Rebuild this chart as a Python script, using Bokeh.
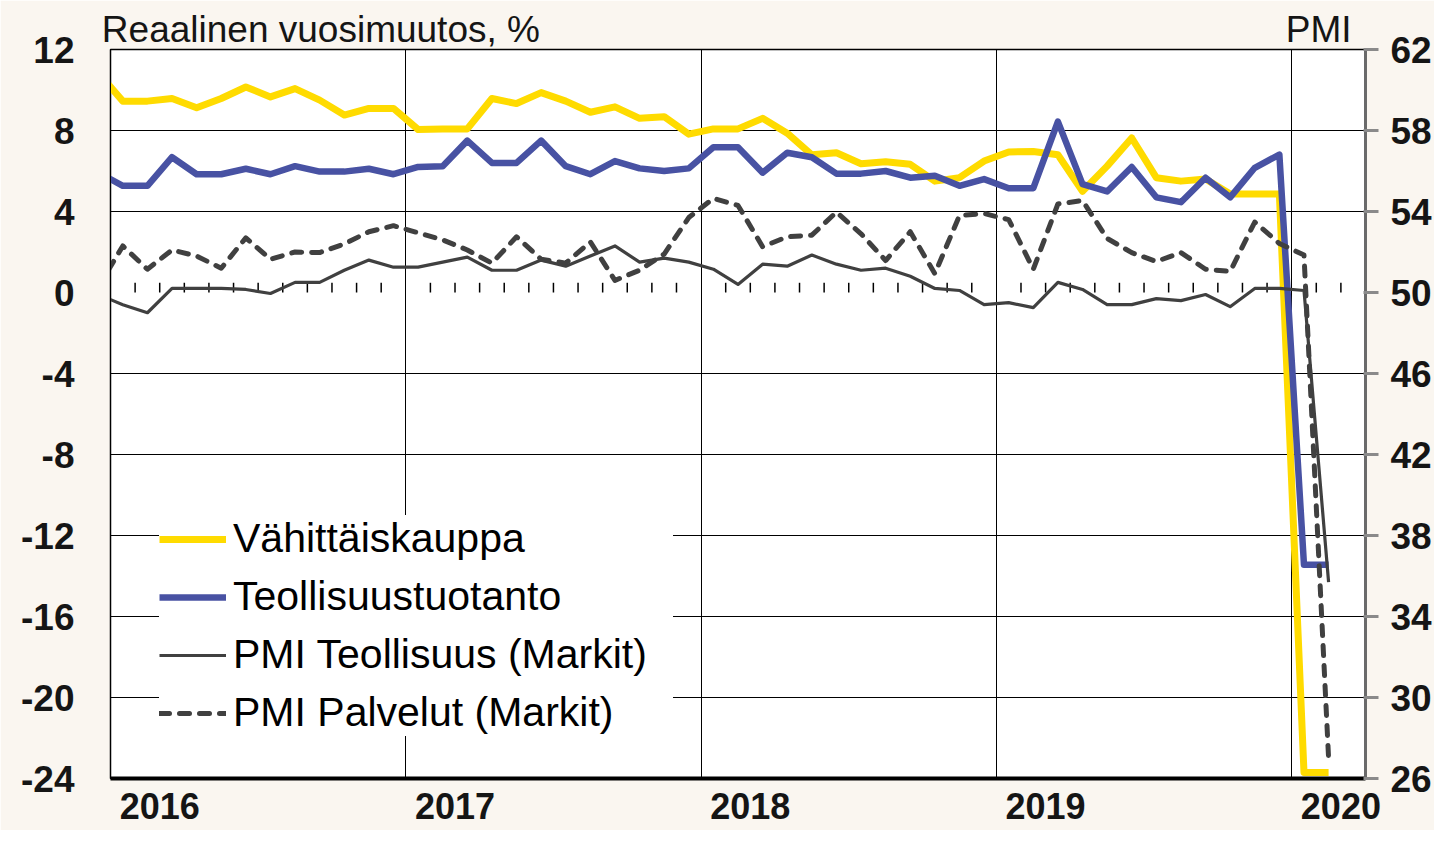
import pandas as pd
from bokeh.plotting import figure
from bokeh.models import Range1d, LinearAxis, FixedTicker, Legend, LegendItem, ColumnDataSource
from bokeh.embed import file_html
from bokeh.resources import INLINE

# ---- data (Dec 2015 .. Feb 2020, monthly) ----
months = [str(p) for p in pd.period_range("2015-12", "2020-02", freq="M")]

retail = [10.85, 9.45, 9.45, 9.58, 9.12, 9.58, 10.15, 9.66, 10.07, 9.5, 8.76, 9.09, 9.09,
          8.05, 8.08, 8.08, 9.58, 9.33, 9.87, 9.45, 8.9, 9.17, 8.6, 8.68, 7.82,
          8.08, 8.08, 8.6, 7.87, 6.8, 6.9, 6.36, 6.46, 6.33, 5.5, 5.67, 6.49,
          6.94, 6.96, 6.8, 5.0, 6.24, 7.63, 5.67, 5.5, 5.6, 4.86, 4.86, 4.86,
          -23.7, -23.7]
industry = [5.93, 5.27, 5.27, 6.68, 5.84, 5.84, 6.11, 5.84, 6.24, 5.97, 5.97, 6.11, 5.84,
            6.2, 6.24, 7.5, 6.4, 6.4, 7.5, 6.24, 5.84, 6.49, 6.13, 6.0, 6.13,
            7.17, 7.17, 5.92, 6.9, 6.68, 5.87, 5.87, 6.0, 5.67, 5.76, 5.27, 5.6,
            5.15, 5.15, 8.44, 5.35, 4.99, 6.2, 4.7, 4.46, 5.67, 4.7, 6.16, 6.81,
            -13.45, -13.45]
pmi_manuf = [49.9, 49.4, 49.0, 50.2, 50.2, 50.2, 50.15, 49.95, 50.5, 50.5, 51.1, 51.6, 51.25,
             51.25, 51.5, 51.75, 51.1, 51.1, 51.6, 51.3, 51.8, 52.3, 51.5, 51.7, 51.5,
             51.15, 50.4, 51.4, 51.3, 51.85, 51.4, 51.1, 51.2, 50.8, 50.2, 50.1, 49.4,
             49.5, 49.25, 50.5, 50.15, 49.4, 49.4, 49.7, 49.6, 49.9, 49.3, 50.2, 50.2,
             50.1, 35.7]
pmi_serv = [50.26, 52.3, 51.15, 52.1, 51.8, 51.2, 52.7, 51.64, 52.0, 51.97, 52.4, 53.0, 53.3,
            52.95, 52.6, 52.1, 51.45, 52.75, 51.64, 51.45, 52.5, 50.6, 51.1, 51.9, 53.7,
            54.65, 54.3, 52.26, 52.75, 52.83, 53.97, 52.9, 51.58, 53.0, 50.93, 53.8, 53.9,
            53.6, 51.15, 54.37, 54.54, 52.67, 51.97, 51.53, 51.97, 51.15, 51.04, 53.48, 52.42,
            51.85, 27.0]

years = [2016, 2017, 2018, 2019, 2020]
left_ticks = list(range(-24, 13, 4))
right_ticks = list(range(26, 63, 4))

series_names = ["Vähittäiskauppa", "Teollisuustuotanto", "PMI Teollisuus (Markit)", "PMI Palvelut (Markit)"]
title_left = "Reaalinen vuosimuutos, %"
title_right = "PMI"

# month position: months since Jan 2016, plotted at mid-month
def mpos(s):
    y, m = s.split("-")
    return (int(y) - 2016) * 12 + int(m) - 1 + 0.5

src = ColumnDataSource(dict(x=[mpos(m) for m in months], retail=retail, industry=industry,
                            pmi_m=pmi_manuf, pmi_s=pmi_serv))

FONT = "Liberation Sans"
BG = "#FAF6F0"
TXT = "#151515"

p = figure(width=1434, height=830, x_range=Range1d(0, 51), y_range=Range1d(-24, 12),
           output_backend="svg", toolbar_location=None,
           min_border_left=110, min_border_right=69, min_border_top=49, min_border_bottom=52)
p.extra_y_ranges = {"pmi": Range1d(26, 62)}
p.background_fill_color = "white"
p.border_fill_color = BG
p.outline_line_color = "black"
p.outline_line_width = 1.5

# grids
p.xgrid.ticker = FixedTicker(ticks=[(y - 2016) * 12 for y in years[1:]])
p.xgrid.grid_line_color = "black"
p.xgrid.grid_line_width = 1
p.ygrid.ticker = FixedTicker(ticks=[t for t in left_ticks if t not in (0, -24, 12)])
p.ygrid.grid_line_color = "black"
p.ygrid.grid_line_width = 1

# x axis (year labels)
xa = p.xaxis[0]
xa.ticker = FixedTicker(ticks=[(y - 2016) * 12 + 2 for y in years])
xa.major_label_overrides = {(y - 2016) * 12 + 2: str(y) for y in years}
xa.major_tick_line_color = None
xa.minor_tick_line_color = None
xa.axis_line_color = "black"
xa.axis_line_width = 4
xa.major_label_standoff = 8
xa.major_label_text_font = FONT
xa.major_label_text_font_size = "36px"
xa.major_label_text_font_style = "bold"
xa.major_label_text_color = TXT

# top texts (unit titles) carried by a bare axis above the frame
ttl_pos = [8.55, 49.1]
ta = LinearAxis(ticker=FixedTicker(ticks=ttl_pos),
                major_label_overrides={ttl_pos[0]: title_left, ttl_pos[1]: title_right})
ta.axis_line_color = None
ta.major_tick_line_color = None
ta.minor_tick_line_color = None
ta.major_tick_out = 0
ta.major_tick_in = 0
ta.major_label_standoff = 0
ta.major_label_text_font = FONT
ta.major_label_text_font_size = "37px"
ta.major_label_text_color = TXT
p.add_layout(ta, "above")

# left axis
ya = p.yaxis[0]
ya.ticker = FixedTicker(ticks=left_ticks)
ya.major_label_overrides = {t: str(t) for t in left_ticks}
ya.major_tick_line_color = None
ya.minor_tick_line_color = None
ya.axis_line_color = "black"
ya.axis_line_width = 1
ya.major_label_standoff = 30
ya.major_label_text_font = FONT
ya.major_label_text_font_size = "37px"
ya.major_label_text_font_style = "bold"
ya.major_label_text_color = TXT

# right axis (PMI)
ra = LinearAxis(y_range_name="pmi", ticker=FixedTicker(ticks=right_ticks))
ra.major_tick_out = 13
ra.major_tick_in = 2
ra.major_tick_line_color = "#8a8a8a"
ra.major_tick_line_width = 3
ra.minor_tick_line_color = None
ra.axis_line_color = "#6a6a6a"
ra.axis_line_width = 3
ra.major_label_standoff = 12
ra.major_label_text_font = FONT
ra.major_label_text_font_size = "37px"
ra.major_label_text_font_style = "bold"
ra.major_label_text_color = TXT
p.add_layout(ra, "right")

# month tick marks on the zero line
mt = [m for m in range(1, 51) if m % 12 != 0]
p.segment(x0=mt, y0=[0] * len(mt), x1=mt, y1=[0.48] * len(mt), line_color="black", line_width=1.5)

# series
r1 = p.line("x", "retail", source=src, line_color="#FFDB00", line_width=7, line_join="round")
r2 = p.line("x", "industry", source=src, line_color="#4852A3", line_width=6.5, line_join="round")
r4 = p.line("x", "pmi_s", source=src, y_range_name="pmi", line_color="#404040", line_width=5,
            line_dash="10 10", line_cap="round", line_join="round")
r3 = p.line("x", "pmi_m", source=src, y_range_name="pmi", line_color="#404040", line_width=3.2,
            line_join="round")

legend = Legend(items=[LegendItem(label=series_names[0], renderers=[r1]),
                       LegendItem(label=series_names[1], renderers=[r2]),
                       LegendItem(label=series_names[2], renderers=[r3]),
                       LegendItem(label=series_names[3], renderers=[r4])],
                location=(49, 42), orientation="vertical",
                label_text_font=FONT, label_text_font_size="41px", label_text_color="black",
                glyph_width=67, glyph_height=36, label_height=36, spacing=11, padding=4,
                label_standoff=7, label_width=440, margin=0,
                border_line_color=None, background_fill_color="white", background_fill_alpha=1)
p.add_layout(legend)

open("out.html", "w").write(file_html(p, INLINE))
